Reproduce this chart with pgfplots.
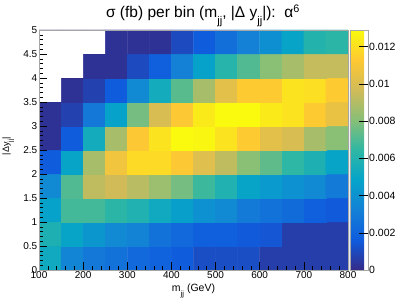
\documentclass[border=0pt]{standalone}
\usepackage{fontspec}
\setmainfont{Liberation Sans}
\usepackage{pgfplots}
\usepackage{pgfplotstable}
\pgfplotsset{compat=1.18}
\newcommand{\sub}[1]{\raisebox{-0.75ex}{\scalebox{0.72}{#1}}}

\pgfplotstableread{
x y z
125 0.25 0.00529
175 0.25 0.00348
225 0.25 0.00284
275 0.25 0.00258
325 0.25 0.00219
375 0.25 0.00194
425 0.25 0.00168
475 0.25 0.00116
525 0.25 0.00116
575 0.25 0.00116
625 0.25 0.00065
675 0.25 0.00065
725 0.25 0.00065
775 0.25 0.00065
125 0.75 0.0058
175 0.75 0.0049
225 0.75 0.00426
275 0.75 0.00361
325 0.75 0.00335
375 0.75 0.00258
425 0.75 0.00219
475 0.75 0.00181
525 0.75 0.00181
575 0.75 0.00155
625 0.75 0.00142
675 0.75 0.00065
725 0.75 0.00065
775 0.75 0.00065
125 1.25 0.00477
175 1.25 0.00684
225 1.25 0.00684
275 1.25 0.00632
325 1.25 0.00593
375 1.25 0.00529
425 1.25 0.00464
475 1.25 0.004
525 1.25 0.00361
575 1.25 0.00297
625 1.25 0.00258
675 1.25 0.00232
725 1.25 0.00181
775 1.25 0.00155
125 1.75 0.00361
175 1.75 0.0071
225 1.75 0.00929
275 1.75 0.00968
325 1.75 0.00916
375 1.75 0.00851
425 1.75 0.00774
475 1.75 0.00671
525 1.75 0.00593
575 1.75 0.0049
625 1.75 0.00439
675 1.75 0.004
725 1.75 0.00361
775 1.75 0.00297
125 2.25 0.00168
175 2.25 0.0049
225 2.25 0.00877
275 2.25 0.01084
325 2.25 0.01187
375 2.25 0.01187
425 2.25 0.01122
475 2.25 0.01019
525 2.25 0.00929
575 2.25 0.00813
625 2.25 0.00735
675 2.25 0.00645
725 2.25 0.0058
775 2.25 0.0049
125 2.75 0.00026
175 2.75 0.00168
225 2.75 0.00542
275 2.75 0.00877
325 2.75 0.01122
375 2.75 0.01213
425 2.75 0.0129
475 2.75 0.01277
525 2.75 0.01213
575 2.75 0.01135
625 2.75 0.01032
675 2.75 0.00993
725 2.75 0.00877
775 2.75 0.00813
125 3.25 0.00026
175 3.25 0.00077
225 3.25 0.00284
275 3.25 0.00477
325 3.25 0.00774
375 3.25 0.00993
425 3.25 0.01122
475 3.25 0.01238
525 3.25 0.0129
575 3.25 0.0129
625 3.25 0.01238
675 3.25 0.01213
725 3.25 0.01135
775 3.25 0.01058
125 3.75 0
175 3.75 0.00026
225 3.75 0.00077
275 3.75 0.00168
325 3.75 0.00361
375 3.75 0.00542
425 3.75 0.00722
475 3.75 0.00877
525 3.75 0.01032
575 3.75 0.01135
625 3.75 0.01135
675 3.75 0.01213
725 3.75 0.012
775 3.75 0.01135
125 4.25 0
175 4.25 0
225 4.25 0.00026
275 4.25 0.00026
325 4.25 0.00103
375 4.25 0.00181
425 4.25 0.00323
475 4.25 0.00477
525 4.25 0.00619
575 4.25 0.0071
625 4.25 0.00813
675 4.25 0.00877
725 4.25 0.00942
775 4.25 0.00942
125 4.75 0
175 4.75 0
225 4.75 0
275 4.75 0.00026
325 4.75 0.00026
375 4.75 0.00026
425 4.75 0.00103
475 4.75 0.00168
525 4.75 0.00245
575 4.75 0.00323
625 4.75 0.00387
675 4.75 0.0049
725 4.75 0.00606
775 4.75 0.00632
}\histdata

\begin{document}
\begin{tikzpicture}[x=1pt,y=1pt]
\path[use as bounding box] (0,0) rectangle (407,302);
\begin{axis}[
  at={(39pt,32pt)}, anchor=south west,
  scale only axis, width=309pt, height=240pt,
  xmin=100, xmax=800, ymin=0, ymax=5,
  axis on top,
  axis line style={black!35},
  tick style={black, line width=0.5pt},
  xtick={100,200,300,400,500,600,700,800},
  ytick={0,0.5,1,1.5,2,2.5,3,3.5,4,4.5,5},
  minor x tick num=4, minor y tick num=4,
  tick pos=left, tick align=inside,
  major tick length=8pt, minor tick length=4pt,
  /pgf/number format/assume math mode=true,
  ticklabel style={font=\fontsize{10}{12}\selectfont},
  xticklabel style={inner sep=1pt},
  yticklabel style={inner sep=1.5pt},
  xlabel={m\sub{jj} (GeV)},
  xlabel style={at={(axis description cs:0.5,0)}, anchor=base, yshift=-22pt, font=\fontsize{10.5}{12}\selectfont},
  ylabel={|Δy\sub{jj}|},
  ylabel style={at={(axis description cs:0,0.5)}, anchor=base, xshift=4pt, yshift=30pt, font=\fontsize{9}{10}\selectfont},
  colormap={bird}{rgb=(0.2082,0.1664,0.5293) rgb=(0.0592,0.3599,0.8684) rgb=(0.0780,0.5041,0.8385) rgb=(0.0232,0.6419,0.7914) rgb=(0.1802,0.7178,0.6425) rgb=(0.5301,0.7492,0.4662) rgb=(0.8186,0.7328,0.3499) rgb=(0.9956,0.7862,0.1968) rgb=(0.9764,0.9832,0.0539)},
  point meta min=0, point meta max=0.0129,
  colorbar,
  colorbar shift/.style={xshift=2pt},
  colorbar style={
    at={(parent axis.north east)}, anchor=north west,
    scale only axis, width=18pt, height=240pt,
    ytick={0,0.002,0.004,0.006,0.008,0.01,0.012},
    scaled y ticks=false,
    ytick pos=right, tick align=inside,
    major tick length=9pt,
    tick style={black, line width=0.5pt},
    axis line style={black!35},
    /pgf/number format/assume math mode=true,
    yticklabel style={font=\fontsize{10.5}{12}\selectfont, /pgf/number format/fixed, /pgf/number format/precision=3, inner sep=1pt},
  },
]
\addplot[matrix plot*, mesh/cols=14, point meta=explicit] table[x=x, y=y, meta=z] {\histdata};
\addplot[fill=white, draw=none, forget plot] coordinates {(100,3.5) (150,3.5) (150,4) (200,4) (200,4.5) (250,4.5) (250,5) (100,5) (100,3.5)};
\end{axis}
\node[anchor=base, font=\fontsize{15.5}{17}\selectfont] at (203,284) {σ (fb) per bin (m\sub{jj}, |Δ y\sub{jj}|):\ \ α\textsuperscript{6}};
\end{tikzpicture}
\end{document}
